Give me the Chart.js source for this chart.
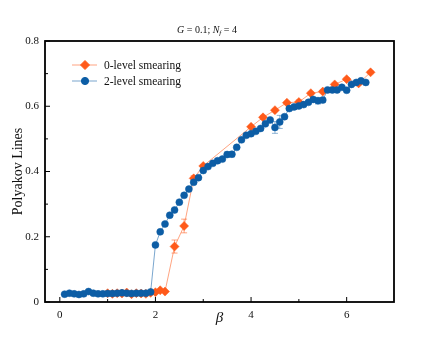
<!DOCTYPE html>
<html>
<head>
<meta charset="utf-8">
<script src="https://cdn.jsdelivr.net/npm/chart.js@4.4.1/dist/chart.umd.min.js"></script>
<style>
  body { margin: 0; background: #fff; }
  #wrap { width: 437px; height: 338px; }
</style>
</head>
<body>
<div id="wrap"><canvas id="polyChart" width="437" height="338"></canvas></div>
<script>
// 2-level smearing (blue circles)
const betaTwo = [0.1, 0.2, 0.3, 0.4, 0.5, 0.6, 0.7, 0.8, 0.9, 1.0,
  1.1, 1.2, 1.3, 1.4, 1.5, 1.6, 1.7, 1.8, 1.9, 2.0,
  2.1, 2.2, 2.3, 2.4, 2.5, 2.6, 2.7, 2.8, 2.9, 3.0,
  3.1, 3.2, 3.3, 3.4, 3.5, 3.6, 3.7, 3.8, 3.9, 4.0,
  4.1, 4.2, 4.3, 4.4, 4.5, 4.6, 4.7, 4.8, 4.9, 5.0,
  5.1, 5.2, 5.3, 5.4, 5.5, 5.6, 5.7, 5.8, 5.9, 6.0,
  6.1, 6.2, 6.3, 6.4];
const polyTwo = [0.024, 0.027, 0.025, 0.023, 0.025, 0.032, 0.027, 0.025, 0.025, 0.026,
  0.026, 0.027, 0.028, 0.027, 0.026, 0.027, 0.027, 0.027, 0.031, 0.175,
  0.215, 0.239, 0.266, 0.282, 0.306, 0.327, 0.346, 0.367, 0.381, 0.403,
  0.415, 0.425, 0.433, 0.438, 0.452, 0.453, 0.474, 0.497, 0.511, 0.516,
  0.523, 0.532, 0.546, 0.558, 0.535, 0.552, 0.568, 0.593, 0.598, 0.601,
  0.605, 0.612, 0.621, 0.617, 0.619, 0.650, 0.650, 0.650, 0.658, 0.649,
  0.667, 0.673, 0.678, 0.673];
const errTwo = [0.002, 0.002, 0.002, 0.002, 0.002, 0.002, 0.002, 0.002, 0.002, 0.002,
  0.002, 0.002, 0.002, 0.002, 0.002, 0.002, 0.002, 0.002, 0.002, 0.004,
  0.004, 0.003, 0.003, 0.003, 0.003, 0.003, 0.003, 0.003, 0.003, 0.003,
  0.003, 0.004, 0.006, 0.005, 0.008, 0.008, 0.004, 0.004, 0.004, 0.004,
  0.004, 0.005, 0.004, 0.004, 0.018, 0.020, 0.004, 0.006, 0.008, 0.004,
  0.004, 0.004, 0.005, 0.010, 0.006, 0.004, 0.004, 0.004, 0.004, 0.004,
  0.004, 0.004, 0.004, 0.004];

// 0-level smearing (orange diamonds)
const betaZero = [1.0, 1.1, 1.2, 1.3, 1.4, 1.5, 1.6, 1.7, 1.8, 1.9, 2.0, 2.1, 2.2,
  2.4, 2.6, 2.8, 3.0, 4.0, 4.25, 4.5, 4.75, 5.0, 5.25, 5.5, 5.75, 6.0, 6.25, 6.5];
const polyZero = [0.027, 0.025, 0.027, 0.026, 0.029, 0.024, 0.027, 0.026, 0.025, 0.028, 0.030, 0.036, 0.032,
  0.170, 0.233, 0.379, 0.417, 0.537, 0.566, 0.588, 0.611, 0.613, 0.640, 0.645, 0.667, 0.683, 0.670, 0.704];
const errZero = [0.002, 0.002, 0.002, 0.002, 0.002, 0.002, 0.002, 0.002, 0.002, 0.002, 0.003, 0.003, 0.003,
  0.020, 0.021, 0.008, 0.004, 0.004, 0.006, 0.004, 0.004, 0.006, 0.004, 0.004, 0.004, 0.004, 0.004, 0.004];

const xTicks = [0, 2, 4, 6];
const xMinor = [1, 3, 5];
const yTicks = [0, 0.2, 0.4, 0.6, 0.8];
const yMinor = [0.1, 0.3, 0.5, 0.7];

const SERIF = "'Liberation Serif', 'DejaVu Serif', serif";
const ORANGE = "#ff5a1a";
const BLUE = "#0c5da5";

function pts(xs, ys) {
  return xs.map((x, i) => ({ x: x, y: ys[i] }));
}

// error bars, frame, inward ticks, labels, legend
const extras = {
  id: "extras",
  beforeDatasetsDraw(chart) {
    const c = chart.ctx;
    const xs = chart.scales.x, ys = chart.scales.y;
    const sets = [
      { b: betaZero, v: polyZero, e: errZero, col: "rgba(255,90,26,0.55)" },
      { b: betaTwo, v: polyTwo, e: errTwo, col: "rgba(12,93,165,0.45)" }
    ];
    c.save();
    c.lineWidth = 1;
    sets.forEach(s => {
      c.strokeStyle = s.col;
      s.b.forEach((b, i) => {
        const px = xs.getPixelForValue(b);
        const y1 = ys.getPixelForValue(s.v[i] - s.e[i]);
        const y2 = ys.getPixelForValue(s.v[i] + s.e[i]);
        c.beginPath();
        c.moveTo(px, y1); c.lineTo(px, y2);
        c.moveTo(px - 3, y1); c.lineTo(px + 3, y1);
        c.moveTo(px - 3, y2); c.lineTo(px + 3, y2);
        c.stroke();
      });
    });
    c.restore();
  },
  afterDraw(chart) {
    const c = chart.ctx;
    const a = chart.chartArea;
    const xs = chart.scales.x, ys = chart.scales.y;
    c.save();
    c.strokeStyle = "#000";
    c.lineWidth = 1;
    c.beginPath();
    xTicks.forEach(v => { const p = xs.getPixelForValue(v); c.moveTo(p, a.bottom); c.lineTo(p, a.bottom - 5); });
    xMinor.forEach(v => { const p = xs.getPixelForValue(v); c.moveTo(p, a.bottom); c.lineTo(p, a.bottom - 3); });
    yTicks.forEach(v => { const p = ys.getPixelForValue(v); c.moveTo(a.left, p); c.lineTo(a.left + 5, p); });
    yMinor.forEach(v => { const p = ys.getPixelForValue(v); c.moveTo(a.left, p); c.lineTo(a.left + 3, p); });
    c.stroke();
    c.lineWidth = 1.8;
    c.strokeRect(a.left, a.top, a.right - a.left, a.bottom - a.top);

    // title
    c.fillStyle = "#111";
    c.textBaseline = "alphabetic";
    const parts = [
      { t: "G", f: "italic 10px " + SERIF, dy: 0 },
      { t: " = 0.1; ", f: "10px " + SERIF, dy: 0 },
      { t: "N", f: "italic 10px " + SERIF, dy: 0 },
      { t: "f", f: "italic 7px " + SERIF, dy: 2 },
      { t: " = 4", f: "10px " + SERIF, dy: 0 }
    ];
    let w = 0;
    parts.forEach(p => { c.font = p.f; w += c.measureText(p.t).width; });
    let x0 = 207 - w / 2;
    parts.forEach(p => {
      c.font = p.f;
      c.fillText(p.t, x0, 33 + p.dy);
      x0 += c.measureText(p.t).width;
    });

    // axis titles
    c.textAlign = "center";
    c.textBaseline = "middle";
    c.font = "italic 15px " + SERIF;
    c.fillText("\u03b2", (a.left + a.right) / 2, 318);
    c.save();
    c.translate(18, (a.top + a.bottom) / 2);
    c.rotate(-Math.PI / 2);
    c.font = "14px " + SERIF;
    c.fillText("Polyakov Lines", 0, 0);
    c.restore();

    // legend
    const leg = [
      { label: chart.data.datasets[1].label, col: ORANGE, line: "rgba(255,90,26,0.55)", style: "rectRot", r: 4.5, y: 65 },
      { label: chart.data.datasets[0].label, col: BLUE, line: "rgba(12,93,165,0.55)", style: "circle", r: 3.6, y: 81 }
    ];
    c.textAlign = "left";
    c.font = "11.5px " + SERIF;
    leg.forEach(l => {
      c.strokeStyle = l.line;
      c.lineWidth = 1;
      c.beginPath(); c.moveTo(72, l.y); c.lineTo(97, l.y); c.stroke();
      c.fillStyle = l.col;
      c.strokeStyle = l.col;
      Chart.helpers.drawPoint(c, { pointStyle: l.style, radius: l.r, borderWidth: 0.5 }, 85, l.y);
      c.fillStyle = "#111";
      c.fillText(l.label, 104, l.y + 1);
    });
    c.restore();
  }
};

const ctx = document.getElementById("polyChart");
new Chart(ctx, {
  type: "line",
  data: {
    datasets: [
      {
        label: "2-level smearing",
        data: pts(betaTwo, polyTwo),
        borderColor: "rgba(12,93,165,0.55)",
        borderWidth: 1,
        pointStyle: "circle",
        pointRadius: 3.5,
        pointBackgroundColor: BLUE,
        pointBorderColor: BLUE,
        pointBorderWidth: 0.5,
        tension: 0,
        order: 0
      },
      {
        label: "0-level smearing",
        data: pts(betaZero, polyZero),
        borderColor: "rgba(255,90,26,0.55)",
        borderWidth: 1,
        pointStyle: "rectRot",
        pointRadius: 4.5,
        pointBackgroundColor: ORANGE,
        pointBorderColor: ORANGE,
        pointBorderWidth: 0.5,
        tension: 0,
        order: 1
      }
    ]
  },
  options: {
    responsive: false,
    animation: false,
    layout: { padding: { top: 41, right: 43, left: 0, bottom: 0 } },
    plugins: { legend: { display: false }, tooltip: { enabled: false }, title: { display: false } },
    scales: {
      x: {
        type: "linear",
        min: -0.31,
        max: 6.99,
        grid: { display: false, drawTicks: false },
        border: { display: false },
        ticks: { color: "#111", padding: 7, font: { family: SERIF, size: 11 } },
        afterBuildTicks: s => { s.ticks = xTicks.map(v => ({ value: v })); },
        afterFit: s => { s.height = 36; }
      },
      y: {
        type: "linear",
        min: 0,
        max: 0.8,
        grid: { display: false, drawTicks: false },
        border: { display: false },
        ticks: { color: "#111", padding: 6, font: { family: SERIF, size: 11 } },
        afterBuildTicks: s => { s.ticks = yTicks.map(v => ({ value: v })); },
        afterFit: s => { s.width = 45; }
      }
    }
  },
  plugins: [extras]
});
</script>
</body>
</html>
